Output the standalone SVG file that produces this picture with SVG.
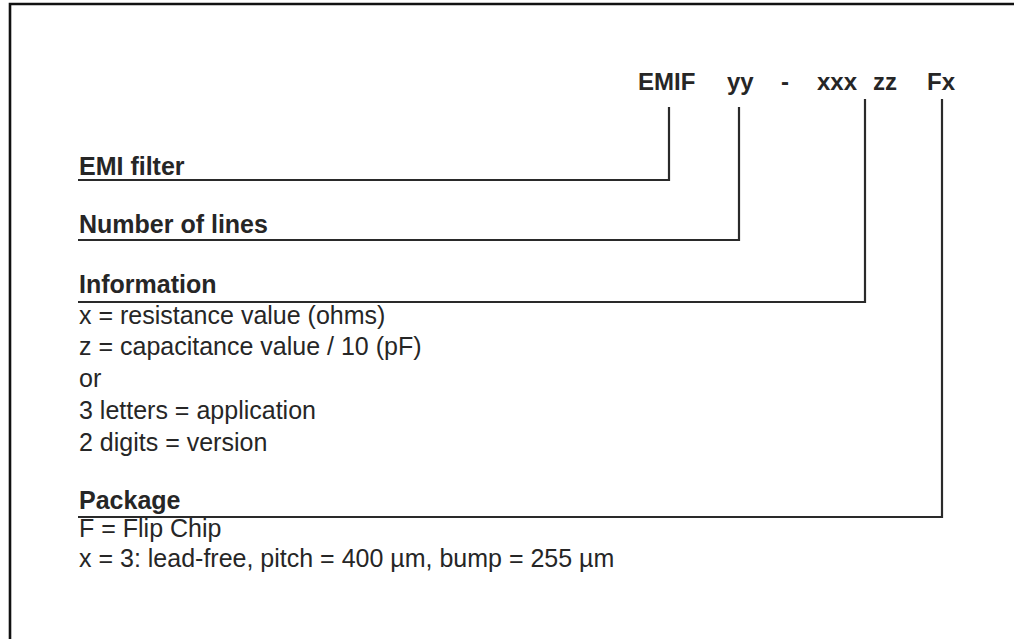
<svg xmlns="http://www.w3.org/2000/svg" width="1014" height="639" viewBox="0 0 1014 639">
<style>
.b{font-family:"Liberation Sans",Arial,sans-serif;font-weight:bold;font-size:25px;fill:#262626}
.h{font-family:"Liberation Sans",Arial,sans-serif;font-weight:bold;font-size:24px;fill:#262626}
.r{font-family:"Liberation Sans",Arial,sans-serif;font-size:25px;fill:#262626}
.c{fill:none;stroke:#2a2a2a;stroke-width:2.2}
</style>
<rect width="1014" height="639" fill="#fff"/>
<path d="M10,640 V4 H1016" fill="none" stroke="#111" stroke-width="2.6"/>
<g id="code">
<text class="h" x="638" y="90">EMIF</text>
<text class="h" x="727" y="90">yy</text>
<text class="h" x="781" y="90">-</text>
<text class="h" x="817" y="90">xxx</text>
<text class="h" x="873" y="90">zz</text>
<text class="h" x="927" y="90">Fx</text>
</g>
<g id="emi-filter">
<text class="b" x="79" y="175">EMI filter</text>
</g>
<g id="number-of-lines">
<text class="b" x="79" y="233">Number of lines</text>
</g>
<g id="information">
<text class="b" x="79" y="293">Information</text>
<text class="r" x="79" y="324">x = resistance value (ohms)</text>
<text class="r" x="79" y="355">z = capacitance value / 10 (pF)</text>
<text class="r" x="79" y="387">or</text>
<text class="r" x="79" y="419">3 letters = application</text>
<text class="r" x="79" y="451">2 digits = version</text>
</g>
<g id="package">
<text class="b" x="79" y="509">Package</text>
<text class="r" x="79" y="537">F = Flip Chip</text>
<text class="r" x="79" y="567">x = 3: lead-free, pitch = 400 µm, bump = 255 µm</text>
</g>
<g id="connectors">
<path class="c" d="M669,107 V180 H78"/>
<path class="c" d="M739,107 V240 H78"/>
<path class="c" d="M865,99 V302 H78"/>
<path class="c" d="M942,99 V517 H78"/>
</g>
</svg>
